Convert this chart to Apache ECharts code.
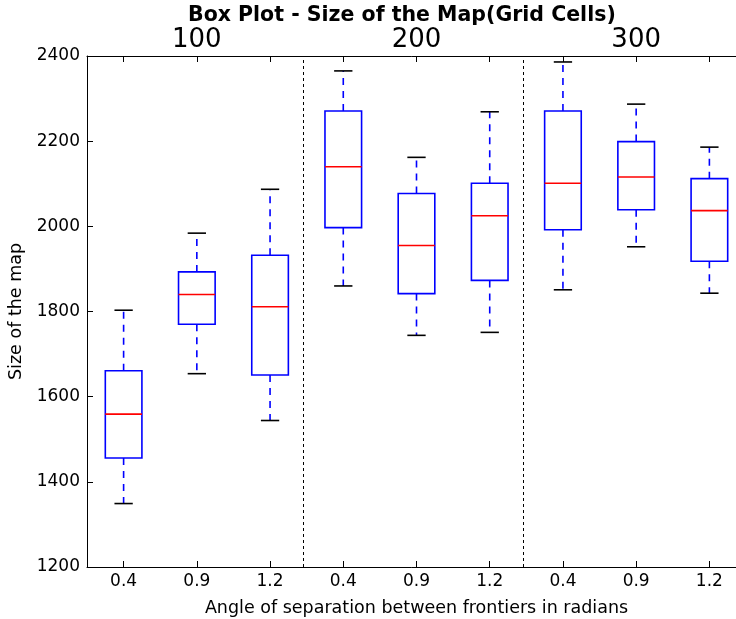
<!DOCTYPE html>
<html>
<head>
<meta charset="utf-8">
<script src="https://cdn.jsdelivr.net/npm/echarts@6/dist/echarts.min.js"></script>
<style>
  html, body { margin: 0; padding: 0; background: #fff; }
  #chart { width: 736px; height: 619px; }
</style>
</head>
<body>
<div id="chart"></div>
<script>
// Map sizes (grid cells) grouped by number of agents, split by frontier angle
const groupLabels = ['100', '200', '300'];
const angleLabels = ['0.4', '0.9', '1.2', '0.4', '0.9', '1.2', '0.4', '0.9', '1.2'];

// Five-number summary of each box, in plotting order
const whiskerLow  = [1349, 1654, 1544, 1860, 1744, 1751, 1851, 1952, 1843];
const quartile1   = [1456, 1770, 1651, 1997, 1842, 1873, 1992, 2039, 1918];
const medians     = [1559, 1840, 1811, 2140, 1955, 2025, 2101, 2116, 2037];
const quartile3   = [1661, 1893, 1932, 2271, 2077, 2101, 2271, 2199, 2112];
const whiskerHigh = [1803, 1984, 2087, 2365, 2162, 2269, 2386, 2287, 2186];

// Box slots on the x axis and the dotted group dividers
const positions = [1, 2, 3, 4, 5, 6, 7, 8, 9];
const groupCenters = [2, 5, 8];
const dividers = [3.46, 6.46];

const yTicks = [1200, 1400, 1600, 1800, 2000, 2200, 2400];

const boxData = positions.map((p, i) => [
  p, whiskerLow[i], quartile1[i], medians[i], quartile3[i], whiskerHigh[i]
]);

const FONT = 'DejaVu Sans';
const BLUE = '#0000ff';
const RED = '#ff0000';

function renderBox(params, api) {
  const x = api.value(0);
  const lo = api.coord([x, api.value(1)]);
  const q1 = api.coord([x, api.value(2)]);
  const md = api.coord([x, api.value(3)]);
  const q3 = api.coord([x, api.value(4)]);
  const hi = api.coord([x, api.value(5)]);
  const band = api.size([1, 0])[0];
  const bw = band * 0.5;
  const cw = band * 0.25;
  const cx = lo[0];
  const lw = 1.6;
  return {
    type: 'group',
    children: [
      { type: 'line', shape: { x1: cx, y1: q3[1], x2: cx, y2: hi[1] },
        style: { stroke: BLUE, lineWidth: lw, lineDash: [7, 6], fill: null } },
      { type: 'line', shape: { x1: cx, y1: q1[1], x2: cx, y2: lo[1] },
        style: { stroke: BLUE, lineWidth: lw, lineDash: [7, 6], fill: null } },
      { type: 'line', shape: { x1: cx - cw / 2, y1: hi[1], x2: cx + cw / 2, y2: hi[1] },
        style: { stroke: '#000', lineWidth: lw, fill: null } },
      { type: 'line', shape: { x1: cx - cw / 2, y1: lo[1], x2: cx + cw / 2, y2: lo[1] },
        style: { stroke: '#000', lineWidth: lw, fill: null } },
      { type: 'rect', shape: { x: cx - bw / 2, y: q3[1], width: bw, height: q1[1] - q3[1] },
        style: { stroke: BLUE, lineWidth: lw, fill: null } },
      { type: 'line', shape: { x1: cx - bw / 2, y1: md[1], x2: cx + bw / 2, y2: md[1] },
        style: { stroke: RED, lineWidth: lw, fill: null } }
    ]
  };
}

const chart = echarts.init(document.getElementById('chart'), null, { renderer: 'canvas' });

const axisLine = { show: true, lineStyle: { color: '#000', width: 1 } };

chart.setOption({
  backgroundColor: '#fff',
  animation: false,
  title: {
    text: 'Box Plot - Size of the Map(Grid Cells)',
    left: 188,
    top: 5,
    padding: 0,
    textStyle: { fontFamily: FONT, fontSize: 20.5, fontWeight: 'bold', color: '#000' }
  },
  grid: {
    left: 87, right: -10, top: 56, bottom: 52,
    containLabel: false,
    outerBoundsMode: 'none'
  },
  xAxis: [
    {
      type: 'value', position: 'bottom', min: 0.5, max: 9.5,
      axisLine: axisLine,
      splitLine: { show: false },
      axisTick: { show: true, inside: true, length: 6, customValues: positions,
        lineStyle: { color: '#000', width: 1 } },
      axisLabel: {
        customValues: positions,
        formatter: v => angleLabels[Math.round(v) - 1],
        fontFamily: FONT, fontSize: 17, color: '#000', margin: 6
      },
      name: 'Angle of separation between frontiers in radians',
      nameLocation: 'middle', nameGap: 32,
      nameTextStyle: { fontFamily: FONT, fontSize: 17.5, color: '#000' }
    },
    {
      type: 'value', position: 'top', min: 0.5, max: 9.5,
      axisLine: axisLine,
      splitLine: { show: false },
      axisTick: { show: true, inside: true, length: 6, customValues: positions,
        lineStyle: { color: '#000', width: 1 } },
      axisLabel: {
        customValues: groupCenters,
        formatter: v => groupLabels[groupCenters.indexOf(Math.round(v))],
        fontFamily: FONT, fontSize: 26, color: '#000', margin: 3
      }
    }
  ],
  yAxis: {
    type: 'value', min: yTicks[0], max: yTicks[yTicks.length - 1], interval: 200,
    axisLine: axisLine,
    splitLine: { show: false },
    axisTick: { show: true, inside: true, length: 6, lineStyle: { color: '#000', width: 1 } },
    axisLabel: {
      formatter: v => String(v),
      fontFamily: FONT, fontSize: 17, color: '#000', margin: 7
    },
    name: 'Size of the map',
    nameLocation: 'middle', nameGap: 51,
    nameTextStyle: { fontFamily: FONT, fontSize: 17.5, color: '#000' }
  },
  series: [
    {
      type: 'custom',
      xAxisIndex: 0,
      renderItem: renderBox,
      encode: { x: 0, y: [1, 2, 3, 4, 5] },
      data: boxData,
      clip: false,
      silent: true,
      markLine: {
        silent: true,
        symbol: ['none', 'none'],
        label: { show: false },
        lineStyle: { color: '#000', width: 1, type: [3, 3] },
        data: dividers.map(d => ({ xAxis: d }))
      }
    }
  ]
});
</script>
</body>
</html>
